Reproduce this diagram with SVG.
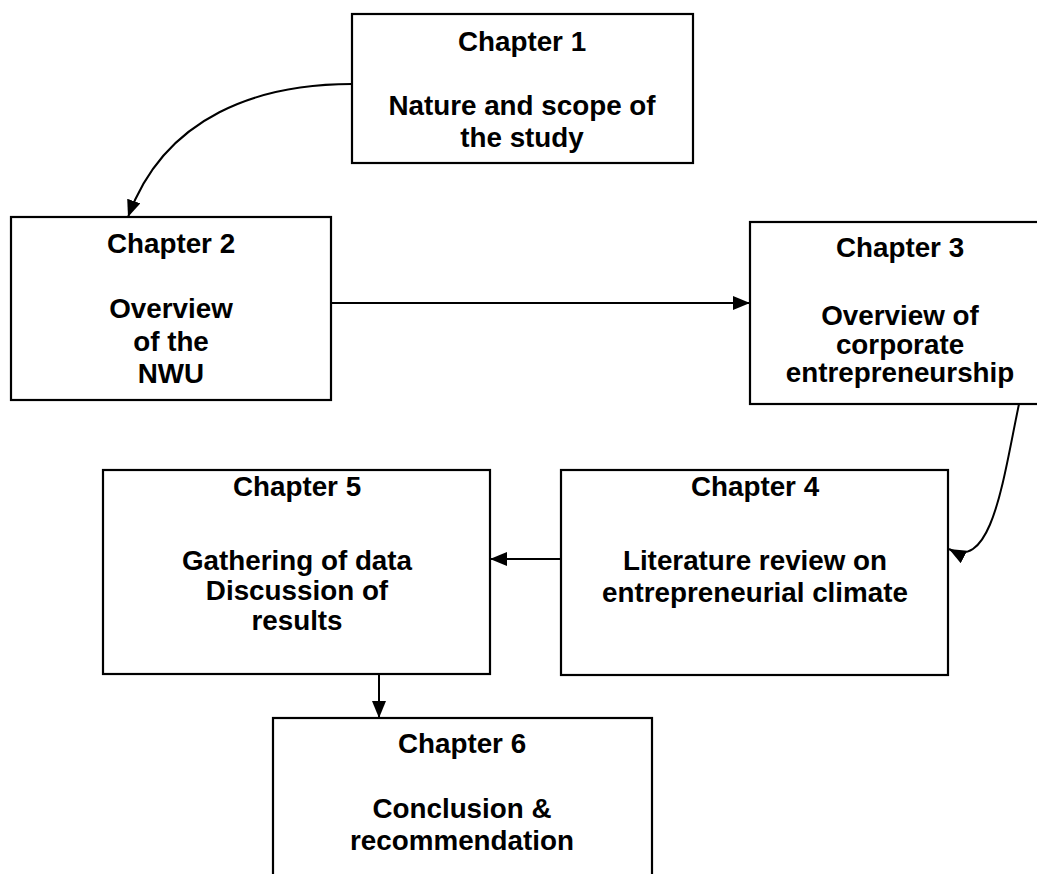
<svg xmlns="http://www.w3.org/2000/svg" width="1037" height="874" viewBox="0 0 1037 874">
<style>
.box{fill:#fff;stroke:#000;stroke-width:2.2}
.t{font-family:"Liberation Sans",Arial,sans-serif;font-weight:bold;font-size:27.8px;fill:#000;text-anchor:middle}
.c{fill:none;stroke:#000;stroke-width:2}
</style>
<defs>
<marker id="ah" markerUnits="userSpaceOnUse" markerWidth="18" markerHeight="16" refX="17" refY="7" orient="auto">
<path d="M0,0 L17,7 L0,14 Z" fill="#000"/>
</marker>
</defs>
<rect width="1037" height="874" fill="#fff"/>
<g id="connectors">
<path class="c" d="M352,84 C260,84 165,115 128,217" marker-end="url(#ah)"/>
<path class="c" d="M331,303 L750,303" marker-end="url(#ah)"/>
<path class="c" d="M1019,404 C1003,480 992,572 949,549" marker-end="url(#ah)"/>
<path class="c" d="M561,559 L490,559" marker-end="url(#ah)"/>
<path class="c" d="M379,674 L379,718" marker-end="url(#ah)"/>
</g>
<g id="ch1">
<rect class="box" x="352" y="14" width="341" height="149"/>
<text class="t" x="522" y="51">Chapter 1</text>
<text class="t" x="522" y="115">Nature and scope of</text>
<text class="t" x="522" y="147">the study</text>
</g>
<g id="ch2">
<rect class="box" x="11" y="217" width="320" height="183"/>
<text class="t" x="171" y="253">Chapter 2</text>
<text class="t" x="171" y="318">Overview</text>
<text class="t" x="171" y="351">of the</text>
<text class="t" x="171" y="383">NWU</text>
</g>
<g id="ch3">
<rect class="box" x="750" y="222" width="300" height="182"/>
<text class="t" x="900" y="257">Chapter 3</text>
<text class="t" x="900" y="325">Overview of</text>
<text class="t" x="900" y="354">corporate</text>
<text class="t" x="900" y="382">entrepreneurship</text>
</g>
<g id="ch4">
<rect class="box" x="561" y="470" width="387" height="205"/>
<text class="t" x="755" y="496">Chapter 4</text>
<text class="t" x="755" y="570">Literature review on</text>
<text class="t" x="755" y="602">entrepreneurial climate</text>
</g>
<g id="ch5">
<rect class="box" x="103" y="470" width="387" height="204"/>
<text class="t" x="297" y="496">Chapter 5</text>
<text class="t" x="297" y="570">Gathering of data</text>
<text class="t" x="297" y="600">Discussion of</text>
<text class="t" x="297" y="630">results</text>
</g>
<g id="ch6">
<rect class="box" x="273" y="718" width="379" height="170"/>
<text class="t" x="462" y="753">Chapter 6</text>
<text class="t" x="462" y="818">Conclusion &amp;</text>
<text class="t" x="462" y="850">recommendation</text>
</g>
</svg>
